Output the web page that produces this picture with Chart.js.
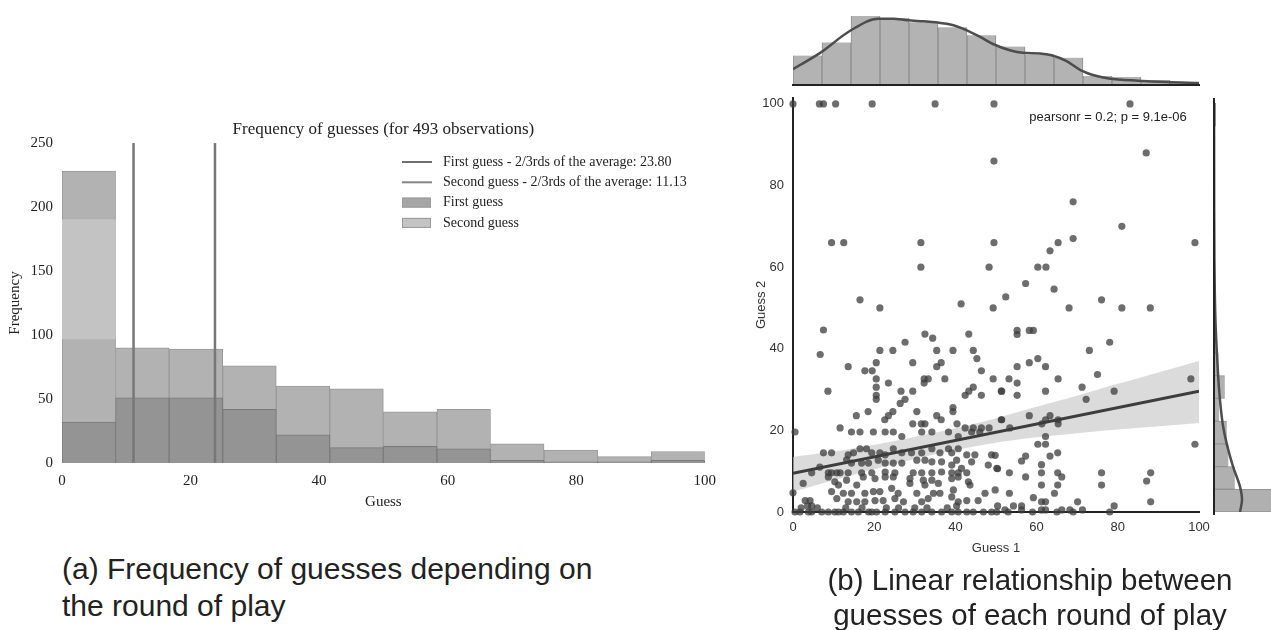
<!DOCTYPE html>
<html>
<head>
<meta charset="utf-8">
<script src="https://cdn.jsdelivr.net/npm/chart.js@4.4.1/dist/chart.umd.min.js"></script>
<style>
  body { margin: 0; background: #fff; width: 1271px; height: 630px; position: relative; overflow: hidden;
         font-family: 'Liberation Sans', Arial, sans-serif; }
  canvas { position: absolute; }
  .cap { position: absolute; font-size: 30px; line-height: 37px; color: #222; white-space: nowrap; }
</style>
</head>
<body>
<canvas id="hist" width="725" height="420" style="left:0;top:100px"></canvas>
<canvas id="topm" width="440" height="95" style="left:780px;top:0"></canvas>
<canvas id="scat" width="480" height="489" style="left:740px;top:81px"></canvas>
<canvas id="rightm" width="59" height="480" style="left:1212px;top:90px"></canvas>
<div class="cap" style="left:62px;top:550px">(a) Frequency of guesses depending on<br>the round of play</div>
<div class="cap" style="left:790px;top:562px;width:480px;text-align:center;font-size:29.5px;line-height:35px">(b) Linear relationship between<br>guesses of each round of play</div>

<script>
// ---- left panel: histogram of guesses ----
var histTitle = 'Frequency of guesses (for 493 observations)';
var binCenters = [4.17, 12.5, 20.83, 29.17, 37.5, 45.83, 54.17, 62.5, 70.83, 79.17, 87.5, 95.83];
var tallCounts = [228, 90, 89, 76, 60, 58, 40, 42, 15, 10, 5, 9];
var shortCounts = [32, 51, 51, 42, 22, 12, 13, 11, 2, 1, 1, 2];
var firstBinPaleBand = [97, 190];
var firstGuessTarget = 23.80;
var secondGuessTarget = 11.13;
var histXTicks = [0, 20, 40, 60, 80, 100];
var histYTicks = [0, 50, 100, 150, 200, 250];
var histLegend = [
  { label: 'First guess - 2/3rds of the average: 23.80', kind: 'line', color: '#6e6e6e' },
  { label: 'Second guess - 2/3rds of the average: 11.13', kind: 'line', color: '#858585' },
  { label: 'First guess', kind: 'box', color: '#a6a6a6' },
  { label: 'Second guess', kind: 'box', color: '#c4c4c4' }
];

// ---- right panel: joint plot of guess 1 vs guess 2 ----
var guessPairs = [
  [0,100],[6.5,100],[7.5,100],[10.5,100],[19.5,100],[35,100],[49.5,100],[83,100],
  [49.5,86],[87,88],
  [69,76],[81,70],[69,67],[65.3,66],[99,66],[9.5,66],[12.5,66],[31.5,66],[49.5,66],
  [63.3,64],[60.3,60],[62.3,60],[31.5,60],[48.3,60],[57.3,56],[64.3,54.6],[52.4,52.7],[16.5,52],[76,52],
  [41.4,51],[21.4,50],[49.3,50],[68,50],[81,50],[88,50],
  [55.2,44.5],[55.2,43.5],[58.2,44.5],[59.2,44.5],[78,41.6],[73,39.6],[60.3,37.6],[58.2,36.6],[62.2,35.6],
  [55.2,35.6],[75,33.7],[53.2,32.6],[55.2,31.6],[65.3,32.6],[98,32.6],[51.4,29.6],[55.2,28.6],[62.2,29.6],
  [71.2,30.6],[79.1,29.6],[72.2,27.6],[58.2,23.6],[51.4,22.6],[61.3,21.6],[62.2,22.6],[63.3,23.6],[65.3,22.6],[65.3,21.6],
  [7.5,44.6],[6.7,38.6],[32.5,43.6],[34.4,42.6],[43.3,43.6],[27.6,41.6],[13.6,35.6],[21.4,39.6],[24.6,39.6],
  [20.5,36.6],[17.7,34.6],[19.5,34.6],[29.5,36.6],[35.4,39.6],[39.4,39.6],[44.4,39.6],[45.3,37.6],[36.5,36.6],
  [35.4,35.6],[46.4,34.6],[20.5,32.6],[20.5,30.6],[20.5,28.6],[20.5,27.6],[23.5,31.6],[8.6,29.6],[32.3,32.6],
  [33.3,32.6],[32.3,31.6],[37.4,32.6],[49.3,32.6],[26.6,29.6],[29.5,29.6],[43.3,29.6],[42.4,28.6],[44.4,30.6],
  [46.4,28.6],[51.3,29.6],[27.6,27.6],[26.4,26.6],[39.4,25.6],[39.4,24.6],[24.6,24.6],[23.5,23.6],[22.6,22.6],
  [18.5,24.6],[15.6,23.6],[30.5,24.6],[29.5,21.6],[31.6,21.6],[32.5,21.6],[36.5,22.6],[35.4,23.6],[40.4,21.6],
  [11.6,20.6],[51.3,22.6],[53.4,20.6],[42.4,20.6],[44.4,20.6],[46.4,20.6],[48.3,20.6],
  [0.5,19.6],[14.4,19.6],[16.5,19.6],[19.8,19.6],[22.7,19.6],[24.7,19.6],[26.8,18.5],[31.7,19.6],[34.2,19.6],
  [38.3,19.6],[40.7,18.5],[44,19.6],[46,19.6],
  [7.5,14.5],[9.5,14.5],[13.6,14],[14.9,14.5],[16.5,15.5],[18.1,15.5],[19.4,14.5],[21.4,14.5],[22.7,14],
  [24.7,15.5],[26.8,14.5],[29.2,14.5],[31.7,14.5],[34.2,15.5],[36.2,14.5],[38.3,15.5],[39.1,14.5],[40.7,15.5],
  [42.8,14],[44.8,14],[48.9,14],
  [6.6,11],[13.2,12.8],[14.4,12],[16.9,12],[18.6,12],[21,12.7],[22.7,12],[24.7,12],[26.8,12],[30.5,12.7],
  [32.5,12.7],[34.2,12.3],[36.6,12.3],[39.1,11.5],[40.3,12.7],[44,12.3],[48.1,11.5],[49.8,13.9],
  [4.6,9.6],[8.7,9.6],[9.5,9.6],[10.8,9.6],[11.6,9.6],[13.6,9.6],[16.9,9.6],[19.4,9.6],[22.7,9.8],[25.1,9.6],
  [29.6,9.6],[31.7,9.6],[34.2,9.6],[36.6,9.8],[39.1,9.6],[40.7,9.6],[41.5,10.7],[42.8,9.6],[50.2,10.7],
  [2.5,7],[8.7,8.6],[10.3,7.4],[13.2,7.8],[17.3,8.6],[20.2,8.2],[22.7,8.6],[24.7,8.6],[28.8,8.2],[32.1,7.8],
  [34.2,7.8],[35.8,7],[39.1,8.2],[40.7,8.6],[43.2,7.4],
  [9.5,5],[11.2,6.6],[12.4,4.6],[14.4,4.6],[15.7,6.6],[17.7,4.6],[19.8,5],[21.4,5],[24.3,5.8],[25.9,4.6],
  [28.8,7],[30.5,4.6],[32.5,6.6],[34.6,4.6],[36.2,4.6],[39.5,5.4],[43.6,6.6],[47.3,4.6],[49.8,5.4],
  [3,2.8],[4.2,2.8],[10.8,3.3],[13.6,2.5],[15.7,2.5],[17.7,2.5],[20.2,2.8],[22.2,2.8],[25.1,3.3],[27.2,2.5],
  [31.7,2.5],[33.3,3.3],[39.1,3.7],[40.7,2.5],[42.8,2.8],[45.6,2.8],[40.3,1.5],[0,4.7],[3.6,1.5],[4.6,1.5],
  [0.5,0],[1.7,0],[3.8,0],[4.6,0],[7.1,0],[8.7,0],[10.3,0],[11.2,0],[12.4,0],[14.4,0],[16.1,0],[18.6,0],
  [19.4,0],[20.6,0],[22.7,0],[25.1,0],[27.6,0],[29.6,0],[31.7,0],[34.2,0],[36.6,0],[39.1,0],[40.7,0],[42.8,0],
  [44.4,0],[46.9,0],[48.9,0],[50.2,0],[2,1],[6,1],[13,1],[17,1],[23,1],[26,1],[30,1],[33,1],[38,1],
  [62.2,18.5],[60.3,16.6],[62.2,16.6],[99,16.6],[57.3,13.7],[56.3,12.5],[63.3,13.7],[65.2,14.5],[61.2,11.6],
  [50.4,10.6],[53.3,9.6],[61.2,9.6],[65.2,9.6],[66.2,8.6],[57.3,8.6],[76,9.6],[76,6.6],[88.1,9.6],[87.1,7.6],
  [61.2,6.6],[65.2,6.6],[53.3,4.6],[64.4,4.6],[59.2,3.5],[61.2,2.5],[62.2,2.5],[70.1,2.5],[88.1,2.5],
  [50.4,1.5],[54.3,1.5],[56.3,1.5],[52.2,0.5],[56.3,0.5],[61.2,0.5],[62.2,0.5],[66.2,0.5],[68.2,0.5],
  [71.3,0.5],[79.1,1.5],[53,0],[59,0],[65,0],[69,0],[78,0]
];
var regLine = [[0, 9.5], [100, 29.6]];
var bandX = [0, 10, 20, 30, 40, 50, 60, 70, 80, 90, 100];
var bandUpper = [13.5, 14.8, 16.5, 18.4, 20.5, 23, 25.8, 28.5, 31.4, 34.2, 37];
var bandLower = [5, 7.8, 10.5, 13, 15.2, 17, 18.3, 19.3, 20.2, 21, 21.8];
var statText = 'pearsonr = 0.2; p = 9.1e-06';
var jointTicks = [0, 20, 40, 60, 80, 100];

// marginal of guess 1 (top)
var g1BinCenters = [3.57, 10.71, 17.86, 25, 32.14, 39.29, 46.43, 53.57, 60.71, 67.86, 75, 82.14, 89.29, 96.43];
var g1Counts = [29, 42, 68, 66, 62, 57, 49, 38, 30, 27, 9, 8, 5, 3];
var g1KdeX = [0, 6.7, 13.9, 21, 24.7, 28.2, 32.1, 35.2, 39.5, 42.4, 46.1, 49.4, 53.4, 56.6, 60.8, 63.7, 67.4, 70.8, 74.8, 77.8, 85, 92, 100];
var g1KdeY = [15.7, 31.7, 53, 65.4, 65.4, 63.8, 62.8, 61.8, 58.9, 54.6, 47.4, 40.2, 34.3, 31.7, 31.1, 29.4, 23.5, 14.7, 8.8, 6.5, 4.3, 2.9, 2];

// marginal of guess 2 (right)
var g2BinCenters = [2.78, 8.33, 13.89, 19.44, 25, 30.56, 36.11, 41.67, 47.22, 52.78, 58.33, 63.89, 69.44, 75, 80.56, 86.11, 91.67, 97.22];
var g2Counts = [190, 52, 36, 32, 13, 27, 11, 7, 5, 5, 1, 1, 0, 0, 0, 0, 0, 5];
var g2KdeY = [0, 3, 6.2, 11, 16.6, 21.4, 29.6, 37.6, 45.7, 53.7, 61.8, 75, 100];
var g2KdeX = [65, 70, 65, 48, 32, 22, 13, 8, 4, 2, 1, 0.4, 0.2];

Chart.defaults.font.family = "'Liberation Sans', Arial, sans-serif";
var serif = "'Liberation Serif', 'Times New Roman', serif";

function fixedTicks(list) {
  return function(scale) { scale.ticks = list.map(function(v) { return { value: v }; }); };
}

var baseOpts = {
  responsive: false,
  animation: false,
  events: [],
  plugins: { legend: { display: false }, tooltip: { enabled: false } }
};

// ---------- histogram ----------
var histDecor = {
  id: 'histDecor',
  afterDraw: function(chart) {
    var ctx = chart.ctx, a = chart.chartArea;
    ctx.save();
    ctx.fillStyle = '#222';
    ctx.textBaseline = 'middle';
    ctx.textAlign = 'center';
    ctx.font = '17px ' + serif;
    ctx.fillText(histTitle, (a.left + a.right) / 2, 30);
    ctx.textAlign = 'left';
    ctx.font = '14px ' + serif;
    histLegend.forEach(function(item, i) {
      var y = 62 + i * 20.3;
      if (item.kind === 'line') {
        ctx.strokeStyle = item.color;
        ctx.lineWidth = 2;
        ctx.beginPath(); ctx.moveTo(402, y); ctx.lineTo(432, y); ctx.stroke();
      } else {
        ctx.fillStyle = item.color;
        ctx.fillRect(402, y - 5, 29, 10);
        ctx.strokeStyle = '#9a9a9a';
        ctx.lineWidth = 1;
        ctx.strokeRect(402.5, y - 4.5, 28, 9);
      }
      ctx.fillStyle = '#222';
      ctx.fillText(item.label, 443, y);
    });
    ctx.restore();
  }
};

function vline(x) {
  return {
    type: 'line', data: [{ x: x, y: 0 }, { x: x, y: 250 }],
    borderColor: '#777', borderWidth: 2.5, pointRadius: 0, order: 0
  };
}

new Chart(document.getElementById('hist'), {
  type: 'bar',
  data: {
    datasets: [
      vline(firstGuessTarget),
      vline(secondGuessTarget),
      {
        data: binCenters.map(function(x, i) { return { x: x, y: shortCounts[i] }; }),
        backgroundColor: '#949494', borderColor: '#7a7a7a', borderWidth: 1,
        barPercentage: 1, categoryPercentage: 1, grouped: false, order: 1
      },
      {
        data: [{ x: binCenters[0], y: firstBinPaleBand }],
        backgroundColor: '#c3c3c3', borderWidth: 0,
        barPercentage: 1, categoryPercentage: 1, grouped: false, order: 2
      },
      {
        data: binCenters.map(function(x, i) { return { x: x, y: tallCounts[i] }; }),
        backgroundColor: '#b2b2b2', borderColor: '#999', borderWidth: 1,
        barPercentage: 1, categoryPercentage: 1, grouped: false, order: 3
      }
    ]
  },
  options: Object.assign({}, baseOpts, {
    layout: { padding: { left: 0, right: 15, top: 43, bottom: 0 } },
    scales: {
      x: {
        type: 'linear', min: 0, max: 100, offset: false,
        afterBuildTicks: fixedTicks(histXTicks),
        afterFit: function(s) { s.height = 57; },
        grid: { display: false, drawTicks: false }, border: { display: false },
        ticks: { padding: 9, color: '#222', font: { family: serif, size: 15 }, maxRotation: 0 },
        title: { display: true, text: 'Guess', color: '#222', font: { family: serif, size: 15 }, padding: { top: 0, bottom: 9 } }
      },
      y: {
        type: 'linear', min: 0, max: 250,
        afterBuildTicks: fixedTicks(histYTicks),
        afterFit: function(s) { s.width = 62; },
        grid: { display: false, drawTicks: false }, border: { display: false },
        ticks: { padding: 9, color: '#222', font: { family: serif, size: 15 } },
        title: { display: true, text: 'Frequency', color: '#222', font: { family: serif, size: 15 }, padding: { top: 6, bottom: 0 } }
      }
    }
  }),
  plugins: [histDecor]
});

// ---------- scatter with regression ----------
var statPlugin = {
  id: 'stat',
  afterDraw: function(chart) {
    var ctx = chart.ctx;
    ctx.save();
    ctx.fillStyle = '#222';
    ctx.font = "13px 'Liberation Sans', Arial, sans-serif";
    ctx.textAlign = 'center';
    ctx.textBaseline = 'middle';
    ctx.fillText(statText, 368, 36);
    ctx.restore();
  }
};

new Chart(document.getElementById('scat'), {
  type: 'scatter',
  data: {
    datasets: [
      {
        data: guessPairs.map(function(p) { return { x: p[0], y: p[1] }; }),
        pointRadius: 3.6, backgroundColor: 'rgba(60,60,60,0.75)', borderWidth: 0, clip: false, order: 0
      },
      {
        type: 'line', data: regLine.map(function(p) { return { x: p[0], y: p[1] }; }),
        borderColor: '#3d3d3d', borderWidth: 3, pointRadius: 0, showLine: true, order: 1
      },
      {
        type: 'line', data: bandX.map(function(x, i) { return { x: x, y: bandUpper[i] }; }),
        borderWidth: 0, pointRadius: 0, showLine: true, fill: '+1', tension: 0.3,
        backgroundColor: 'rgba(200,200,200,0.65)', order: 2
      },
      {
        type: 'line', data: bandX.map(function(x, i) { return { x: x, y: bandLower[i] }; }),
        borderWidth: 0, pointRadius: 0, showLine: true, fill: false, tension: 0.3, order: 3
      }
    ]
  },
  options: Object.assign({}, baseOpts, {
    layout: { padding: { left: 0, right: 21, top: 0, bottom: 0 } },
    scales: {
      x: {
        type: 'linear', min: 0, max: 100,
        afterBuildTicks: fixedTicks(jointTicks),
        afterFit: function(s) { s.height = 58; },
        grid: { display: false, drawTicks: false },
        border: { display: true, color: '#222', width: 2 },
        ticks: { padding: 8, color: '#333', font: { size: 13 }, maxRotation: 0 },
        title: { display: true, text: 'Guess 1', color: '#333', font: { size: 13 }, padding: { top: 0, bottom: 14 } }
      },
      y: {
        type: 'linear', min: 0, max: 101.5,
        afterBuildTicks: fixedTicks(jointTicks),
        afterFit: function(s) { s.width = 53; },
        grid: { display: false, drawTicks: false },
        border: { display: true, color: '#222', width: 2 },
        ticks: { padding: 9, color: '#333', font: { size: 13 } },
        title: { display: true, text: 'Guess 2', color: '#333', font: { size: 13 }, padding: { top: 14, bottom: 0 } }
      }
    }
  }),
  plugins: [statPlugin]
});

// ---------- marginals ----------
function spine(side) {
  return {
    id: 'spine_' + side,
    afterDraw: function(chart) {
      var a = chart.chartArea, ctx = chart.ctx;
      ctx.save();
      ctx.strokeStyle = '#222';
      ctx.lineWidth = 2;
      ctx.beginPath();
      if (side === 'bottom') { ctx.moveTo(a.left - 1, a.bottom); ctx.lineTo(a.right + 1, a.bottom); }
      else { ctx.moveTo(a.left, a.top + 1); ctx.lineTo(a.left, a.bottom + 3); }
      ctx.stroke();
      ctx.restore();
    }
  };
}

new Chart(document.getElementById('topm'), {
  type: 'bar',
  data: {
    datasets: [
      {
        type: 'line', data: g1KdeX.map(function(x, i) { return { x: x, y: g1KdeY[i] }; }),
        borderColor: '#4d4d4d', borderWidth: 2.5, pointRadius: 0, cubicInterpolationMode: 'monotone', order: 0
      },
      {
        data: g1BinCenters.map(function(x, i) { return { x: x, y: g1Counts[i] }; }),
        backgroundColor: '#b3b3b3', borderColor: '#8e8e8e',
        borderWidth: { left: 1, right: 1, top: 0, bottom: 0 },
        barPercentage: 1, categoryPercentage: 1, order: 1
      }
    ]
  },
  options: Object.assign({}, baseOpts, {
    layout: { padding: { left: 13, right: 21, top: 12, bottom: 10 } },
    scales: {
      x: { type: 'linear', display: false, min: 0, max: 100, offset: false },
      y: { type: 'linear', display: false, min: 0, max: 72 }
    }
  }),
  plugins: [spine('bottom')]
});

new Chart(document.getElementById('rightm'), {
  type: 'bar',
  data: {
    datasets: [
      {
        type: 'line', data: g2KdeY.map(function(y, i) { return { x: g2KdeX[i], y: y }; }),
        borderColor: '#4d4d4d', borderWidth: 2.5, pointRadius: 0, cubicInterpolationMode: 'monotone', order: 0
      },
      {
        data: g2BinCenters.map(function(y, i) { return { x: g2Counts[i], y: y }; }),
        backgroundColor: '#b0b0b0', borderColor: '#959595',
        borderWidth: { top: 1, bottom: 1, left: 0, right: 0 },
        barPercentage: 1, categoryPercentage: 1, order: 1
      }
    ]
  },
  options: Object.assign({}, baseOpts, {
    indexAxis: 'y',
    layout: { padding: { left: 2, right: 0, top: 7, bottom: 58 } },
    scales: {
      x: { type: 'linear', display: false, min: 0, max: 142.5 },
      y: { type: 'linear', display: false, min: 0, max: 101.5, offset: false }
    }
  }),
  plugins: [spine('left')]
});
</script>
</body>
</html>
